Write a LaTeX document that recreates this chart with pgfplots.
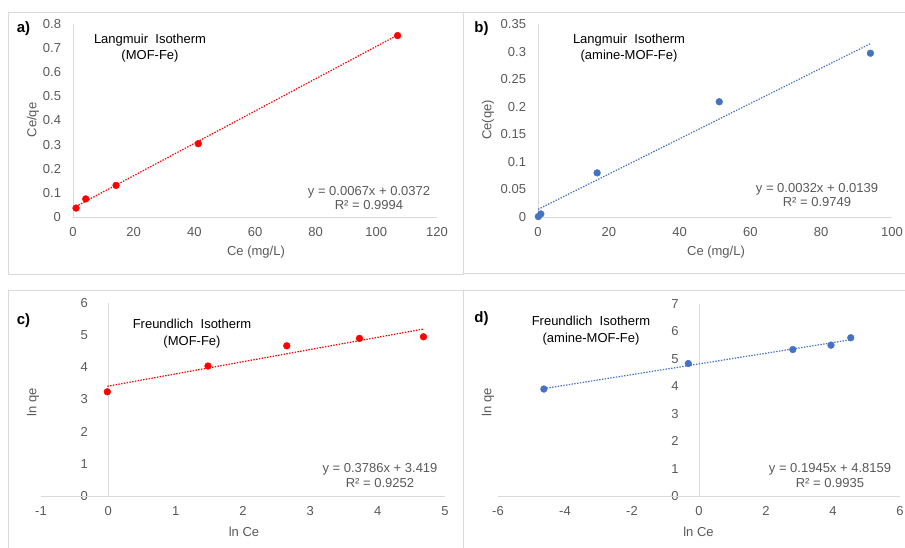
\documentclass[border=0pt]{standalone}
\usepackage{fontspec}
\setmainfont{Liberation Sans}
\usepackage{pgfplots}
\pgfplotsset{compat=1.18}
\definecolor{tgray}{HTML}{595959}
\definecolor{lgray}{HTML}{D9D9D9}
\definecolor{ared}{HTML}{FF0000}
\definecolor{ablue}{HTML}{4472C4}
\tikzset{axl/.style={lgray, line width=0.9bp}}
\pgfplotsset{
 excel/.style={
  scale only axis, axis line style={draw=none}, tick pos=left,
  major tick length=0, enlargelimits=false, clip=false, scaled ticks=false,
  tick label style={font=\fontsize{13bp}{15bp}\selectfont, text=tgray},
  xticklabel style={yshift=-7bp}, yticklabel style={xshift=-8.5bp},
  anchor=south west,
 },
 dat/.style={only marks, mark=*, mark size=3.4bp, color=#1},
 trend/.style={no marks, color=#1, line width=1.2bp, dash pattern=on 1.4bp off 1.4bp},
}
\begin{document}
\begin{tikzpicture}[font=\fontsize{13bp}{15bp}\selectfont]
\path[use as bounding box] (0,0) rectangle (905bp,-548bp);
\draw[lgray, line width=1bp] (8bp,-12bp) rectangle (463bp,-274bp);
\draw[lgray, line width=1bp] (463bp,-12bp) rectangle (912bp,-273bp);
\draw[lgray, line width=1bp] (8bp,-290bp) rectangle (463bp,-560bp);
\draw[lgray, line width=1bp] (463bp,-290bp) rectangle (912bp,-560bp);

% a)
\begin{axis}[excel, at={(73bp,-217bp)}, width=364bp, height=193bp,
  xmin=0, xmax=120, ymin=0, ymax=0.8,
  xtick={0,20,40,60,80,100,120}, xticklabels={0,20,40,60,80,100,120},
  ytick={0,0.1,0.2,0.3,0.4,0.5,0.6,0.7,0.8}, yticklabels={0,0.1,0.2,0.3,0.4,0.5,0.6,0.7,0.8}]
\draw[axl] (axis cs:0,0) -- (axis cs:120,0);
\draw[axl] (axis cs:0,0) -- (axis cs:0,0.8);
\addplot[dat=ared] coordinates {(1.0,0.037) (4.2,0.075) (14.2,0.131) (41.3,0.304) (107,0.752)};
\addplot[trend=ared] coordinates {(1.0,0.0439) (107,0.7541)};
\end{axis}

% b)
\begin{axis}[excel, at={(538bp,-217bp)}, width=354bp, height=193bp,
  xmin=0, xmax=100, ymin=0, ymax=0.35,
  xtick={0,20,40,60,80,100}, xticklabels={0,20,40,60,80,100},
  ytick={0,0.05,0.1,0.15,0.2,0.25,0.3,0.35}, yticklabels={0,0.05,0.1,0.15,0.2,0.25,0.3,0.35}]
\draw[axl] (axis cs:0,0) -- (axis cs:100,0);
\draw[axl] (axis cs:0,0) -- (axis cs:0,0.35);
\addplot[dat=ablue] coordinates {(0.1,0.0008) (0.8,0.0055) (16.7,0.080) (51.2,0.209) (93.9,0.297)};
\addplot[trend=ablue] coordinates {(0,0.0139) (94,0.3147)};
\end{axis}

% c)
\begin{axis}[excel, at={(41bp,-496bp)}, width=404bp, height=193bp,
  xmin=-1, xmax=5, ymin=0, ymax=6,
  yticklabel style={xshift=58.8bp},
  xtick={-1,0,1,2,3,4,5}, xticklabels={-1,0,1,2,3,4,5},
  ytick={0,1,2,3,4,5,6}, yticklabels={0,1,2,3,4,5,6}]
\draw[axl] (axis cs:-1,0) -- (axis cs:5,0);
\draw[axl] (axis cs:0,0) -- (axis cs:0,6);
\addplot[dat=ared] coordinates {(-0.015,3.24) (1.48,4.04) (2.65,4.67) (3.73,4.90) (4.68,4.95)};
\addplot[trend=ared] coordinates {(-0.015,3.413) (4.68,5.191)};
\end{axis}

% d)
\begin{axis}[excel, at={(498bp,-496bp)}, width=402bp, height=192bp,
  xmin=-6, xmax=6, ymin=0, ymax=7,
  yticklabel style={xshift=192.5bp},
  xtick={-6,-4,-2,0,2,4,6}, xticklabels={-6,-4,-2,0,2,4,6},
  ytick={0,1,2,3,4,5,6,7}, yticklabels={0,1,2,3,4,5,6,7}]
\draw[axl] (axis cs:-6,0) -- (axis cs:6,0);
\draw[axl] (axis cs:0,0) -- (axis cs:0,7);
\addplot[dat=ablue] coordinates {(-4.63,3.90) (-0.32,4.83) (2.80,5.34) (3.94,5.50) (4.53,5.77)};
\addplot[trend=ablue] coordinates {(-4.63,3.9154) (4.53,5.697)};
\end{axis}

% panel letters
\begin{scope}[font=\fontsize{15bp}{18bp}\selectfont\bfseries]
\node at (23.5bp,-29bp) {a)};
\node at (481.5bp,-29bp) {b)};
\node at (23.5bp,-320.5bp) {c)};
\node at (481.5bp,-319bp) {d)};
\end{scope}

% titles
\node[anchor=base] at (150bp,-43bp) {Langmuir\ \ Isotherm};
\node[anchor=base] at (150bp,-59bp) {(MOF-Fe)};
\node[anchor=base] at (629bp,-43bp) {Langmuir\ \ Isotherm};
\node[anchor=base] at (629bp,-59bp) {(amine-MOF-Fe)};
\node[anchor=base] at (192bp,-328bp) {Freundlich\ \ Isotherm};
\node[anchor=base] at (192bp,-345bp) {(MOF-Fe)};
\node[anchor=base] at (591bp,-325bp) {Freundlich\ \ Isotherm};
\node[anchor=base] at (591bp,-342bp) {(amine-MOF-Fe)};

% equations
\begin{scope}[text=tgray]
\node[anchor=base] at (369bp,-195bp) {y = 0.0067x + 0.0372};
\node[anchor=base] at (369bp,-209.5bp) {R² = 0.9994};
\node[anchor=base] at (817bp,-192bp) {y = 0.0032x + 0.0139};
\node[anchor=base] at (817bp,-206bp) {R² = 0.9749};
\node[anchor=base] at (380bp,-472bp) {y = 0.3786x + 3.419};
\node[anchor=base] at (380bp,-487bp) {R² = 0.9252};
\node[anchor=base] at (830bp,-472bp) {y = 0.1945x + 4.8159};
\node[anchor=base] at (830bp,-487bp) {R² = 0.9935};

% axis titles
\node[rotate=90] at (33bp,-120bp) {Ce/qe};
\node at (256bp,-252bp) {Ce (mg/L)};
\node[rotate=90] at (488bp,-120bp) {Ce(qe)};
\node at (716bp,-252bp) {Ce (mg/L)};
\node[rotate=90] at (33bp,-402bp) {ln qe};
\node at (244bp,-532bp) {ln Ce};
\node[rotate=90] at (488bp,-402bp) {ln qe};
\node at (698.5bp,-532bp) {ln Ce};
\end{scope}
\end{tikzpicture}
\end{document}
